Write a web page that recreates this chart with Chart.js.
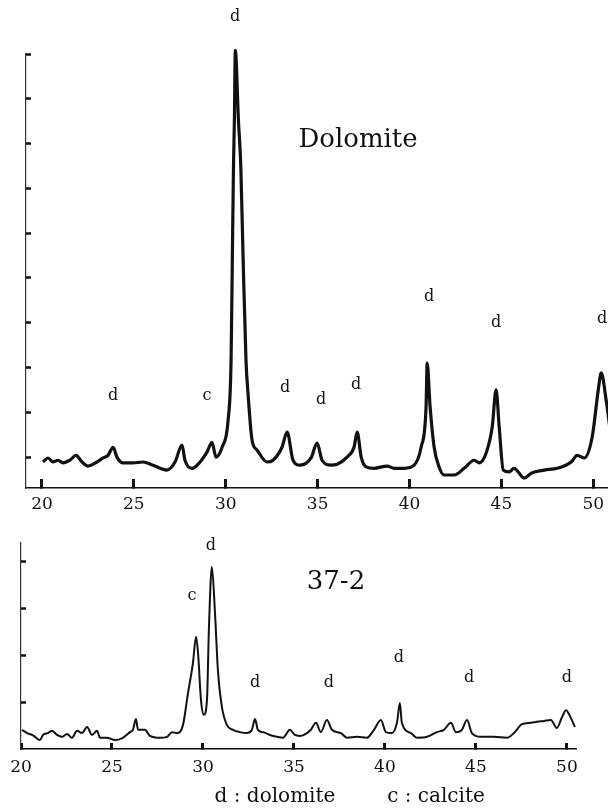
<!DOCTYPE html>
<html>
<head>
<meta charset="utf-8">
<style>
  html, body { margin: 0; background: #fff; overflow: hidden; }
  #wrap { position: relative; width: 608px; height: 808px; }
  canvas { position: absolute; left: 0; }
</style>
</head>
<body>
<div id="wrap">
  <canvas id="dolomite" width="608" height="520" style="top:0"></canvas>
  <canvas id="sample" width="608" height="288" style="top:520px"></canvas>
</div>
<script src="https://cdn.jsdelivr.net/npm/chart.js@4/dist/chart.umd.min.js"></script>
<script>
  // 2-theta (deg) and relative intensity, reference dolomite
  const dolAngle = [
    20.05, 20.33, 20.60, 20.87, 21.14, 21.52, 21.85, 22.18, 22.50, 22.99,
    23.32, 23.59, 23.87, 24.08, 24.41, 24.95, 25.50, 26.04, 26.80, 27.24,
    27.62, 27.78, 28.17, 28.60, 28.98, 29.25, 29.47, 29.80, 30.13, 30.29,
    30.36, 30.42, 30.47, 30.52, 30.69, 30.82, 30.94, 31.10, 31.21, 31.43,
    31.70, 32.25, 32.57, 33.06, 33.34, 33.66, 34.04, 34.64, 34.97, 35.24,
    35.73, 36.06, 36.60, 36.98, 37.15, 37.37, 37.64, 38.07, 38.78, 39.16,
    39.71, 40.25, 40.63, 40.90, 40.96, 41.12, 41.34, 41.61, 41.88, 42.43,
    42.97, 43.52, 43.79, 44.17, 44.50, 44.71, 44.88, 45.10, 45.42, 45.69,
    46.24, 46.62, 47.33, 48.03, 48.80, 49.12, 49.50, 49.94, 50.27, 50.43,
    50.70, 50.92
  ]
  const dolIntensity = [
    0.89, 0.98, 0.89, 0.93, 0.87, 0.93, 1.04, 0.89, 0.80, 0.89,
    0.98, 1.04, 1.22, 1.00, 0.87, 0.87, 0.89, 0.82, 0.71, 0.89,
    1.27, 0.93, 0.75, 0.89, 1.11, 1.33, 1.00, 1.22, 1.83, 3.17,
    5.50, 7.47, 8.52, 10.08, 8.52, 7.47, 5.50, 3.17, 2.43, 1.38,
    1.16, 0.89, 0.93, 1.22, 1.56, 0.93, 0.82, 0.98, 1.31, 0.93,
    0.82, 0.84, 1.00, 1.22, 1.56, 1.00, 0.78, 0.75, 0.80, 0.75,
    0.75, 0.82, 1.22, 2.12, 3.10, 2.12, 1.22, 0.78, 0.60, 0.60,
    0.75, 0.93, 0.87, 1.09, 1.67, 2.50, 1.67, 0.71, 0.67, 0.75,
    0.53, 0.64, 0.71, 0.75, 0.89, 1.04, 0.98, 1.45, 2.50, 2.88,
    2.27, 1.60
  ]

  // sample 37-2
  const smpAngle = [
    20.05, 20.33, 20.60, 20.77, 21.04, 21.21, 21.48, 21.70, 21.98, 22.25,
    22.53, 22.80, 23.08, 23.35, 23.63, 23.90, 24.18, 24.34, 24.73, 25.16,
    25.60, 25.99, 26.15, 26.32, 26.43, 26.81, 27.09, 27.64, 28.02, 28.30,
    28.57, 28.90, 29.18, 29.45, 29.62, 29.73, 29.89, 30.05, 30.22, 30.33,
    30.49, 30.66, 30.82, 31.04, 31.32, 31.65, 32.03, 32.42, 32.69, 32.86,
    33.02, 33.30, 33.68, 34.07, 34.40, 34.78, 35.05, 35.33, 35.55, 35.93,
    36.21, 36.48, 36.81, 37.09, 37.58, 37.91, 38.46, 39.01, 39.40, 39.78,
    40.05, 40.38, 40.66, 40.82, 40.93, 41.43, 41.76, 42.31, 42.86, 43.24,
    43.63, 43.90, 44.23, 44.51, 44.78, 45.27, 45.99, 46.70, 47.09, 47.53,
    48.02, 48.35, 48.74, 49.12, 49.45, 49.73, 49.95, 50.22, 50.44
  ]
  const smpIntensity = [
    0.41, 0.34, 0.30, 0.26, 0.19, 0.30, 0.34, 0.39, 0.30, 0.26,
    0.32, 0.24, 0.39, 0.34, 0.47, 0.30, 0.39, 0.24, 0.24, 0.19,
    0.24, 0.36, 0.41, 0.64, 0.41, 0.41, 0.28, 0.24, 0.26, 0.36,
    0.34, 0.51, 1.20, 1.84, 2.40, 2.05, 1.05, 0.73, 1.05, 2.61,
    3.89, 2.91, 1.69, 0.90, 0.51, 0.41, 0.36, 0.34, 0.41, 0.64,
    0.41, 0.36, 0.30, 0.26, 0.24, 0.41, 0.30, 0.28, 0.30, 0.41,
    0.56, 0.36, 0.62, 0.41, 0.34, 0.24, 0.26, 0.24, 0.41, 0.62,
    0.36, 0.34, 0.56, 0.98, 0.56, 0.34, 0.24, 0.26, 0.36, 0.41,
    0.56, 0.36, 0.41, 0.62, 0.34, 0.26, 0.26, 0.24, 0.34, 0.53,
    0.56, 0.58, 0.60, 0.62, 0.45, 0.68, 0.83, 0.66, 0.47
  ]

  const angleTicks = [20, 25, 30, 35, 40, 45, 50]

  // peak labels: text, angle, height
  const dolLabelText = ['d', 'c', 'd', 'd', 'd', 'd', 'd', 'd', 'd', 'Dolomite']
  const dolLabelAngle = [23.87, 28.98, 30.51, 33.23, 35.19, 37.09, 41.07, 44.71, 50.48, 37.2]
  const dolLabelLevel = [2.36, 2.36, 10.82, 2.54, 2.27, 2.61, 4.57, 3.99, 4.08, 8.08]

  const smpLabelText = ['d', 'c', '37-2', 'd', 'd', 'd', 'd', 'd']
  const smpLabelAngle = [30.44, 29.40, 37.31, 32.86, 36.92, 40.77, 44.62, 50.0]
  const smpLabelLevel = [4.34, 3.27, 3.57, 1.41, 1.41, 1.95, 1.52, 1.52]

  const SERIF = '"DejaVu Serif", "Liberation Serif", serif'
  const INK = '#111'

  const peakLabels = {
    id: 'peakLabels',
    afterDatasetsDraw(chart, args, opts) {
      const { ctx, scales } = chart
      ctx.save()
      ctx.fillStyle = INK
      ctx.textAlign = 'center'
      ctx.textBaseline = 'middle'
      opts.text.forEach((t, i) => {
        ctx.font = t.length > 1 ? '26px ' + SERIF : '16px ' + SERIF
        ctx.fillText(t, scales.x.getPixelForValue(opts.angle[i]), scales.y.getPixelForValue(opts.level[i]))
      })
      ;(opts.notes || []).forEach(n => {
        ctx.font = '20px ' + SERIF
        ctx.fillText(n.text, n.x, n.y)
      })
      ctx.restore()
    }
  }

  function pattern(id, angles, values, o) {
    return new Chart(document.getElementById(id), {
      type: 'line',
      data: {
        datasets: [{
          data: angles.map((a, i) => ({ x: a, y: values[i] })),
          borderColor: INK,
          borderWidth: o.lineWidth,
          borderJoinStyle: 'round',
          pointRadius: 0,
          cubicInterpolationMode: 'monotone',
          clip: false
        }]
      },
      options: {
        responsive: false,
        animation: false,
        layout: { padding: o.padding },
        plugins: {
          legend: { display: false },
          tooltip: { enabled: false },
          peakLabels: o.labels
        },
        scales: {
          x: {
            type: 'linear',
            min: o.xMin,
            max: o.xMax,
            afterBuildTicks: s => { s.ticks = angleTicks.map(v => ({ value: v })) },
            afterFit: s => {
              s.height = o.xHeight
              s.paddingLeft = 0
              s.paddingRight = 0
            },
            border: { color: INK, width: 1.6 },
            grid: { drawOnChartArea: false, tickLength: o.xTick, tickWidth: 3, tickColor: INK },
            ticks: { color: INK, padding: o.xPad, font: { family: SERIF, size: 17 } }
          },
          y: {
            min: o.yMin,
            max: o.yMax,
            afterBuildTicks: s => { s.ticks = o.yTicks.map(v => ({ value: v })) },
            afterFit: s => { s.width = 0 },
            border: { color: '#333', width: 1.2 },
            grid: { drawOnChartArea: false, tickLength: -5, tickWidth: 2.5, tickColor: INK },
            ticks: { display: false }
          }
        }
      },
      plugins: [peakLabels]
    })
  }

  pattern('dolomite', dolAngle, dolIntensity, {
    lineWidth: 3.2,
    padding: { left: 26, right: 0, top: 54, bottom: 0 },
    xMin: 19.13, xMax: 50.8, xHeight: 32, xTick: -9, xPad: 15,
    yMin: 0.31, yMax: 10, yTicks: [1, 2, 3, 4, 5, 6, 7, 8, 9, 10],
    labels: { text: dolLabelText, angle: dolLabelAngle, level: dolLabelLevel }
  })

  pattern('sample', smpAngle, smpIntensity, {
    lineWidth: 2,
    padding: { left: 21, right: 32, top: 23, bottom: 29 },
    xMin: 20, xMax: 50.5, xHeight: 30, xTick: -6, xPad: 14,
    yMin: 0, yMax: 4.4, yTicks: [1, 2, 3, 4],
    labels: {
      text: smpLabelText, angle: smpLabelAngle, level: smpLabelLevel,
      notes: [{ text: 'd : dolomite', x: 275, y: 277 }, { text: 'c : calcite', x: 436, y: 277 }]
    }
  })
</script>
</body>
</html>
